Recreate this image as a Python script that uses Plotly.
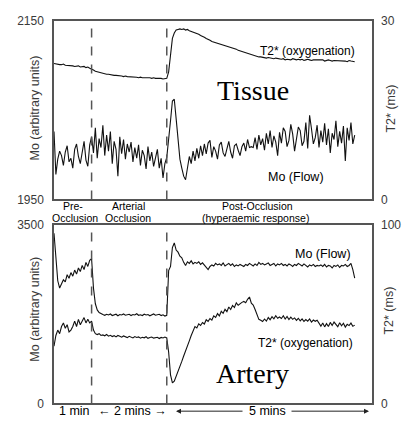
import plotly.graph_objects as go

# ---------------- data ----------------
sample_interval_min = 0.05
n_samples = 161  # 0 .. 8 minutes
minutes = [round(i * sample_interval_min, 2) for i in range(n_samples)]

tissue_t2 = [
    22.8, 22.7, 22.7, 22.6, 22.6, 22.7, 22.5, 22.5, 22.4, 22.5, 22.4, 22.3, 22.3, 22.4, 22.2, 22.2, 22.3, 22.1, 22.2, 22.0, 21.9,
    21.7, 21.5, 21.4, 21.3, 21.2, 21.2, 21.1, 21.0, 21.0, 20.9, 20.9, 20.8, 20.8, 20.8, 20.7, 20.7, 20.6, 20.7, 20.6, 20.6,
    20.5, 20.5, 20.6, 20.5, 20.4, 20.5, 20.4, 20.4, 20.5, 20.4, 20.4, 20.3, 20.4, 20.3, 20.3, 20.4, 20.3, 20.2, 20.3, 20.3,
    21.4, 24.5, 27.0, 27.9, 28.4, 28.5, 28.6, 28.5, 28.6, 28.4,
    28.5, 28.3, 28.2, 28.1, 28.0, 27.8, 27.7, 27.5, 27.4, 27.2,
    27.0, 26.9, 26.7, 26.5, 26.4, 26.3, 26.2, 26.1, 26.0, 26.0,
    25.9, 25.8, 25.7, 25.6, 25.4, 25.3, 25.2, 25.0, 24.9, 24.8,
    24.6, 24.5, 24.4, 24.3, 24.2, 24.1, 24.0, 24.0, 23.9, 23.9,
    23.8, 23.8, 23.7, 23.8, 23.7, 23.7, 23.6, 23.7, 23.6, 23.6,
    23.5, 23.6, 23.4, 23.5, 23.5, 23.4, 23.6, 23.5, 23.4, 23.5,
    23.4, 23.5, 23.3, 23.4, 23.5, 23.4, 23.3, 23.4, 23.4, 23.3,
    23.4, 23.3, 23.4, 23.2, 23.3, 23.4, 23.3, 23.2, 23.3, 23.3,
    23.2, 23.3, 23.2, 23.3, 23.2, 23.1, 23.3, 23.2, 23.2, 23.1,
]

tissue_mo = [
    2026,
    1978, 1995, 2004, 1999, 1988, 2003, 2010, 1992, 1996, 1985, 2006, 2012, 1998, 1990, 2004, 2015, 1994, 1987, 2011, 2020,
    2002, 2030, 1996, 2018, 2008, 2033, 1999, 2022, 2004, 2026, 1990, 2015, 2006, 1976, 2020, 2001, 2017, 1995, 2012, 2003,
    2014, 1992, 2008, 1996, 2011, 1988, 2005, 1999, 1984, 2009, 1993, 2003, 1987, 1998, 2006, 1985, 1996, 1974, 1990, 1997,
    2015, 2038, 2060, 2062, 2040, 2012, 1995, 1985, 1976, 1972, 1984, 1998, 1990, 2004, 1993, 2007, 1996, 2010, 1999, 2012,
    2001, 2013, 2016, 1997, 2009, 2004, 1995, 2011, 2014, 2002, 1998, 2008, 2015, 2003, 1996, 2010, 2012, 2005, 1999, 2009,
    2013, 2004, 2017, 2008, 2009, 2008, 2019, 2006, 2022, 2011, 2018, 2005, 2024, 2012, 2027, 2008, 2021, 2014, 1999, 2025,
    2013, 2030, 2026, 2009, 2016, 2034, 2023, 2004, 2018, 2031, 2027, 2010, 2015, 2036, 2007, 2044, 2029, 2012, 2019, 2033,
    2008, 2027, 2014, 2035, 2011, 2029, 2002, 2024, 2017, 2038, 2009, 2026, 2013, 2032, 1993, 2030, 2016, 2036, 2012, 2022,
]

artery_mo = [
    3330, 2900, 2400, 2257, 2330,
    2420, 2380, 2520, 2450, 2560, 2490, 2610, 2530, 2650, 2580, 2700, 2620, 2760, 2680, 2800, 2830,
    2257, 1950, 1830, 1780, 1755,
    1740, 1725, 1745, 1730, 1750, 1720, 1735, 1745, 1715, 1740, 1730, 1750, 1725, 1735, 1745,
    1720, 1740, 1730, 1755, 1725, 1735, 1720, 1745, 1730, 1740, 1715, 1735, 1750, 1725, 1730, 1745, 1720, 1735, 1710, 1725,
    2600, 2680, 3050, 3140, 3000, 2960, 2880, 2850, 2760, 2700, 2770, 2740, 2790, 2730, 2760, 2740, 2770, 2720, 2750, 2700,
    2650, 2620, 2680, 2710, 2690, 2740, 2710, 2730, 2700, 2750, 2690, 2720, 2740, 2700, 2730, 2680, 2710, 2690, 2720, 2700,
    2680, 2720, 2700, 2740, 2710, 2690, 2730, 2700, 2760, 2720, 2740, 2710, 2730, 2750, 2700, 2720, 2740, 2690, 2730, 2710,
    2740, 2700, 2720, 2690, 2730, 2710, 2680, 2720, 2700, 2740, 2710, 2690, 2730, 2700, 2670, 2710, 2690, 2720, 2680, 2700,
    2690, 2710, 2680, 2720, 2670, 2700, 2690, 2650, 2700, 2680, 2710, 2660, 2700, 2690, 2720, 2680, 2700, 2740, 2620, 2450,
]

artery_t2 = [
    32, 38, 41, 39, 43, 45, 42, 44, 40, 41, 43, 46, 43, 47, 44, 46, 48, 45, 47, 45, 46,
    41, 39, 38.5, 39, 38,
    38.3, 37.8, 38.5, 37.6, 38.1, 37.4, 37.9, 37.2, 38.0, 37.5, 37.0, 37.7, 37.3, 36.8, 37.5,
    37.1, 36.6, 37.4, 36.9, 37.2, 36.5, 37.0, 36.7, 37.3, 36.4, 36.9, 37.1, 36.5, 36.8, 37.0, 36.3, 36.9, 36.6, 37.1, 36.6,
    28.6, 16, 11.5, 12.5, 15, 18, 21, 23.5, 26.5, 29, 32, 35, 38, 41, 43, 42.2, 44.5, 43.6, 45.2, 44.4,
    46.8, 45.9, 47.5, 46.6, 49.0, 48.1, 50.2, 48.9, 51.5, 50.4, 52.6, 51.3, 53.9, 52.5, 54.8, 53.6, 56.2, 54.9, 55.8, 56.5,
    57.0, 56.3, 58.2, 59.5, 56.0, 55.0, 52.5, 49.5, 47.0, 46.5, 45.8, 47.2, 46.0, 48.0, 46.8, 48.5, 47.3, 49.0, 47.6, 48.3,
    47.5, 49.0, 47.2, 48.6, 46.9, 48.2, 47.0, 47.8, 46.4, 47.6, 46.2, 47.3, 45.8, 46.9, 46.0, 47.2, 45.5, 46.6, 45.9, 46.5,
    44.5, 43.2, 45.0, 42.8, 44.6, 43.0, 45.3, 43.6, 45.5, 44.0, 42.9, 45.1, 43.4, 44.8, 42.7, 44.2, 43.5, 44.9, 43.1, 43.8,
]

phase_boundaries_min = [1, 3]
top_mo_ticks = [1950, 2150]
top_t2_ticks = [0, 30]
bottom_mo_ticks = [0, 3500]
bottom_t2_ticks = [0, 100]

# ---------------- figure ----------------
W, H = 411, 423
def px_x(p): return p / W
def px_y(p): return 1 - p / H

SANS = "Liberation Sans, Arial, sans-serif"
SERIF = "Liberation Serif, Times New Roman, serif"
GRAY = "#3a3a3a"
FRAME = "#555555"
LINE = dict(color="#111111", width=1.1)

fig = go.Figure()
fig.add_trace(go.Scatter(x=minutes, y=tissue_mo, mode="lines", line=LINE, xaxis="x", yaxis="y", showlegend=False))
fig.add_trace(go.Scatter(x=minutes, y=tissue_t2, mode="lines", line=LINE, xaxis="x", yaxis="y2", showlegend=False))
fig.add_trace(go.Scatter(x=minutes, y=artery_mo, mode="lines", line=LINE, xaxis="x2", yaxis="y3", showlegend=False))
fig.add_trace(go.Scatter(x=minutes, y=artery_t2, mode="lines", line=LINE, xaxis="x2", yaxis="y4", showlegend=False))

xdom = [px_x(54), px_x(372)]
top_dom = [px_y(199), px_y(14)]
bot_dom = [px_y(410), px_y(225)]
xrange_ = [0, 8.46]

xcommon = dict(range=xrange_, showgrid=False, zeroline=False, showticklabels=False, ticks="",
               showline=True, mirror=True, linecolor=FRAME, linewidth=1.5, fixedrange=True)
ycommon = dict(showgrid=False, zeroline=False, ticks="", tickfont=dict(family=SANS, size=12, color=GRAY),
               fixedrange=True)

fig.update_layout(
    width=W, height=H, autosize=False,
    margin=dict(l=0, r=0, t=0, b=0),
    paper_bgcolor="white", plot_bgcolor="white",
    xaxis=dict(domain=xdom, anchor="y", **xcommon),
    xaxis2=dict(domain=xdom, anchor="y3", **xcommon),
    yaxis=dict(domain=top_dom, anchor="x", range=[1950, 2150], tickvals=top_mo_ticks,
               showline=True, mirror=True, linecolor=FRAME, linewidth=1.5, ticklabelstandoff=6, **ycommon),
    yaxis2=dict(overlaying="y", side="right", anchor="x", range=[0, 30], tickvals=top_t2_ticks,
                showline=False, ticklabelstandoff=8, **ycommon),
    yaxis3=dict(domain=bot_dom, anchor="x2", range=[0, 3500], tickvals=bottom_mo_ticks,
                showline=True, mirror=True, linecolor=FRAME, linewidth=1.5, ticklabelstandoff=6, **ycommon),
    yaxis4=dict(overlaying="y3", side="right", anchor="x2", range=[0, 100], tickvals=bottom_t2_ticks,
                showline=False, ticklabelstandoff=8, **ycommon),
)

for xr, yr in [("x", "y"), ("x2", "y3")]:
    for b in phase_boundaries_min:
        fig.add_shape(type="line", xref=xr, yref=f"{yr} domain", x0=b, x1=b, y0=0, y1=1,
                      line=dict(color="#555555", width=1.5, dash="dash"))

def ann(text, x, y, size=12, family=SANS, color="black", angle=0, **kw):
    fig.add_annotation(text=text, x=px_x(x), y=px_y(y), xref="paper", yref="paper",
                       showarrow=False, xanchor="center", yanchor="middle",
                       font=dict(family=family, size=size, color=color), textangle=angle, **kw)

# axis titles
ann("Mo (arbitrary units)", 35, 105, size=12.5, color=GRAY, angle=-90)
ann("Mo (arbitrary units)", 35, 313, size=12.5, color=GRAY, angle=-90)
ann("T2* (ms)", 391, 105, size=12.5, color=GRAY, angle=-90)
ann("T2* (ms)", 389, 314, size=12.5, color=GRAY, angle=-90)

# in-panel labels
ann("T2* (oxygenation)", 307, 45, size=12)
ann("Tissue", 253, 86, size=28, family=SERIF)
ann("Mo (Flow)", 296, 176, size=12.5)
ann("Mo (Flow)", 323, 255, size=12.5)
ann("T2* (oxygenation)", 305, 347, size=12)
ann("Artery", 252, 379, size=28, family=SERIF)

# phase labels between panels
ann("Pre-", 73, 206, size=10.5)
ann("Occlusion", 75, 218, size=10.5)
ann("Arterial", 128, 206, size=10.5)
ann("Occlusion", 128, 218, size=10.5)
ann("Post-Occlusion", 257, 206, size=10.5)
ann("(hyperaemic response)", 255, 218, size=10.5)

# durations under the bottom panel
ann("1 min", 74, 418, size=12.5)
ann("\u2190 2 mins \u2192", 132, 418, size=12.5)
fig.add_annotation(x=px_x(369), y=px_y(418), ax=-79, ay=0, xref="paper", yref="paper",
                   axref="pixel", ayref="pixel", text="", showarrow=True, arrowhead=2, arrowsize=1,
                   arrowwidth=1, arrowcolor="#222")
fig.add_annotation(x=px_x(176), y=px_y(418), ax=68, ay=0, xref="paper", yref="paper",
                   axref="pixel", ayref="pixel", text="", showarrow=True, arrowhead=2, arrowsize=1,
                   arrowwidth=1, arrowcolor="#222")
ann("5 mins", 267, 418, size=12.5)

fig.write_html("out.html", config={"displayModeBar": False},
               post_script="document.body.style.margin='0';document.body.style.overflow='hidden';")
